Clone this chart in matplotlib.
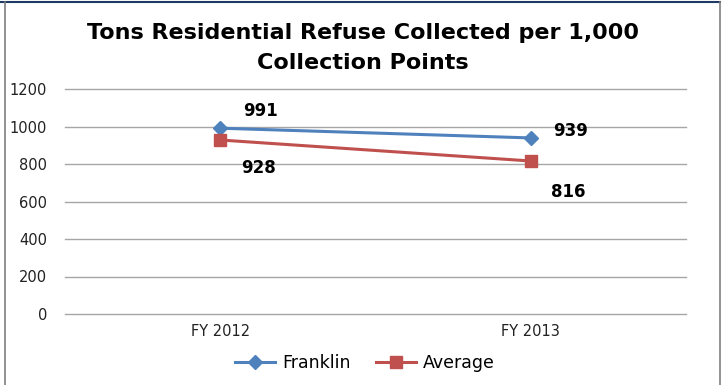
import matplotlib.pyplot as plt
from matplotlib.lines import Line2D

# chart data
years = ["FY 2012", "FY 2013"]
franklin = [991, 939]
average = [928, 816]
y_ticks = [0, 200, 400, 600, 800, 1000, 1200]

blue = "#4F81BD"
red = "#C0504D"
font = "DejaVu Sans"

fig = plt.figure(figsize=(7.23, 3.85), dpi=100)
ax = fig.add_axes([65 / 723, 1 - 314 / 385, 621 / 723, 225 / 385])

x = list(range(len(years)))
ax.plot(x, franklin, color=blue, lw=2.2, marker="D", ms=7.5, label="Franklin")
ax.plot(x, average, color=red, lw=2.2, marker="s", ms=9, label="Average")

# data labels: Franklin above right, Average below right
f_dy = [17, 7]
a_dy = [-28, -31]
for i, v in enumerate(franklin):
    ax.annotate(str(v), (i, v), xytext=(40, f_dy[i]), textcoords="offset pixels",
                ha="center", va="center", fontsize=12, fontweight="bold",
                family=font)
for i, v in enumerate(average):
    ax.annotate(str(v), (i, v), xytext=(38, a_dy[i]), textcoords="offset pixels",
                ha="center", va="center", fontsize=12, fontweight="bold",
                family=font)

ax.set_xlim(-0.5, 1.5)
ax.set_ylim(0, 1200)
ax.set_yticks(y_ticks)
ax.set_xticks(x)
ax.set_xticklabels(years)
for t in y_ticks:
    ax.axhline(t, color="#A6A6A6", lw=1, zorder=0, clip_on=False)
for s in ax.spines.values():
    s.set_visible(False)
ax.tick_params(length=0, labelsize=10.5, pad=13, labelcolor="#222222")
ax.tick_params(axis="x", pad=7)
for lab in ax.get_xticklabels() + ax.get_yticklabels():
    lab.set_family(font)

fig.suptitle("Tons Residential Refuse Collected per 1,000\nCollection Points",
             x=363 / 723, y=1 - 23 / 385, fontsize=16, fontweight="bold",
             family=font, va="top", linespacing=1.6)

handles = [
    Line2D([], [], color=blue, lw=2.2, marker="D", ms=7.5),
    Line2D([], [], color=red, lw=2.2, marker="s", ms=9),
]
fig.legend(handles, ["Franklin", "Average"], loc="center",
           bbox_to_anchor=(365 / 723, 1 - 363 / 385), ncol=2, frameon=False,
           prop={"family": font, "size": 12.5}, handlelength=2.3,
           columnspacing=1.5, handletextpad=0.4)

# chart frame
fig.add_artist(Line2D([0, 720 / 723], [1 - 2 / 385] * 2, color="#1F3864", lw=1.5))
fig.add_artist(Line2D([5 / 723] * 2, [0, 1 - 2 / 385], color="#7F7F7F", lw=1.2))
fig.add_artist(Line2D([720 / 723] * 2, [0, 1 - 2 / 385], color="#7F7F7F", lw=1.2))

fig.savefig("out.png", dpi=100)
